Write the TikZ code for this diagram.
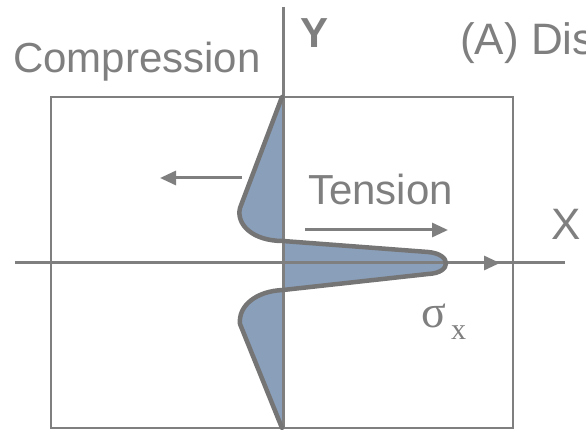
\documentclass[tikz,border=0pt]{standalone}
\usepackage{fontspec}
\setmainfont{Liberation Sans}
\newfontfamily\serifgk{Liberation Serif}
\usetikzlibrary{arrows.meta}
\definecolor{lg}{HTML}{7F7F7F}
\definecolor{pg}{HTML}{757575}
\definecolor{sf}{HTML}{8A9FBA}
\begin{document}
\begin{tikzpicture}[x=1pt,y=-1pt,
  lbl/.style={inner sep=0pt,anchor=base west,text=lg},
  axisline/.style={draw=lg,line width=3pt},
  boxline/.style={draw=lg,line width=2.5pt},
  profile/.style={draw=pg,line width=4.5pt,line join=round,line cap=round},
  dirarrow/.style={draw=lg,line width=3pt,-{Triangle[length=16pt,width=14pt]}}]
\useasboundingbox (0,0) rectangle (586,430);
\clip (0,0) rectangle (586,430);
% coordinates
\coordinate (ytop) at (283,7);
\coordinate (ybot) at (283,428);
\coordinate (xl) at (15,263);
\coordinate (xr) at (565,263);
\coordinate (xtipstart) at (445,263);
\coordinate (xtip) at (500,263);
\coordinate (tS) at (305,230);
\coordinate (tE) at (448,230);
\coordinate (cS) at (242,178);
\coordinate (cE) at (160,178);
% box
\draw[boxline] (51,97) rectangle (513,428);
% stress profile fill
\fill[sf] (282,97) -- (240,208) .. controls (236,224) and (252,241) .. (283,241)
  -- (428,252) .. controls (452,254) and (452,273) .. (428,274)
  -- (283,290) .. controls (256,291) and (238,306) .. (240,324)
  -- (282,428) -- cycle;
% axes
\draw[axisline] (ytop) -- (ybot);
\draw[axisline] (xl) -- (xr);
\draw[dirarrow] (xtipstart) -- (xtip);
% profile outline
\draw[profile] (282,97) -- (240,208) .. controls (236,224) and (252,241) .. (283,241)
  -- (428,252) .. controls (452,254) and (452,273) .. (428,274)
  -- (283,290) .. controls (256,291) and (238,306) .. (240,324)
  -- (282,428);
% direction arrows
\draw[dirarrow] (tS) -- (tE);
\draw[dirarrow] (cS) -- (cE);
% labels
\node[lbl,font=\fontsize{42}{42}\selectfont] (comp) at (13,73) {Compression};
\node[lbl,font=\fontsize{42}{42}\selectfont\bfseries] (ylab) at (300,48) {Y};
\node[lbl,font=\fontsize{44}{44}\selectfont] (title) at (460,55) {(A) Dis};
\node[lbl,font=\fontsize{42}{42}\selectfont] (tens) at (308,205) {Tension};
\node[lbl,font=\fontsize{44}{44}\selectfont] (xlab) at (551,240) {X};
\node[lbl,font=\fontsize{46}{46}\serifgk] (sig) at (421,327) {σ};
\node[lbl,font=\fontsize{30}{30}\serifgk] (sub) at (451,339) {x};
\end{tikzpicture}
\end{document}
